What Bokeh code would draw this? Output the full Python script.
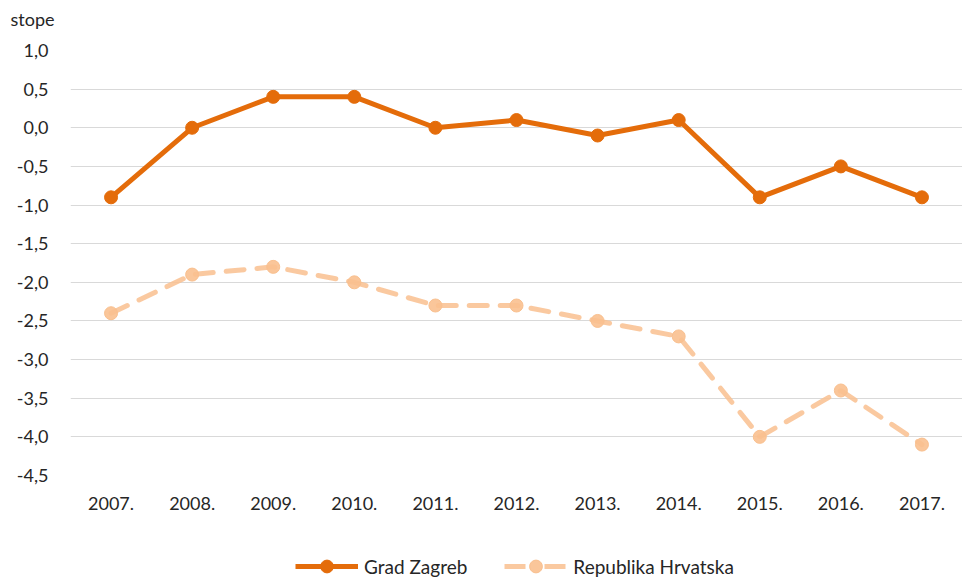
from bokeh.plotting import figure
from bokeh.layouts import column
from bokeh.models import (Range1d, FactorRange, CustomJSTickFormatter, FixedTicker,
                          Legend, LegendItem)
from bokeh.embed import file_html
from bokeh.resources import INLINE

years = ["2007.", "2008.", "2009.", "2010.", "2011.", "2012.", "2013.", "2014.", "2015.", "2016.", "2017."]
grad_zagreb = [-0.9, 0.0, 0.4, 0.4, 0.0, 0.1, -0.1, 0.1, -0.9, -0.5, -0.9]
republika_hrvatska = [-2.4, -1.9, -1.8, -2.0, -2.3, -2.3, -2.5, -2.7, -4.0, -3.4, -4.1]
y_ticks = [-4.5, -4.0, -3.5, -3.0, -2.5, -2.0, -1.5, -1.0, -0.5, 0.0, 0.5, 1.0]
unit_label = "stope"
series_names = ["Grad Zagreb", "Republika Hrvatska"]

FONT = "Lato"
FS = "18px"
TXT = "#262626"
ZG = "#E46C0A"
RH = "#F9C08F"

# header strip with the unit label (as a title shifted left of the frame)
hd = figure(width=962, height=38, x_range=Range1d(0, 1), y_range=Range1d(0, 1),
            output_backend="svg", toolbar_location=None,
            x_axis_location=None, y_axis_location=None,
            min_border_left=70, min_border_right=0, min_border_top=32, min_border_bottom=0)
hd.outline_line_color = None
hd.grid.visible = False
hd.title.text = unit_label
hd.title.align = "left"
hd.title.offset = -60
hd.title.standoff = 10
hd.title.text_font = FONT
hd.title.text_font_size = FS
hd.title.text_font_style = "normal"
hd.title.text_color = TXT

p = figure(width=962, height=477, x_range=FactorRange(*years), y_range=Range1d(-4.5, 1.0),
           output_backend="svg", toolbar_location=None,
           min_border_left=70, min_border_right=0, min_border_top=12, min_border_bottom=40)
p.outline_line_color = None
p.background_fill_color = "white"
p.border_fill_color = "white"

p.xgrid.grid_line_color = None
p.ygrid.grid_line_color = "#D9D9D9"
p.ygrid.grid_line_width = 1
p.yaxis.ticker = FixedTicker(ticks=y_ticks)
p.yaxis.formatter = CustomJSTickFormatter(code="return tick.toFixed(1).replace('.', ',');")
for ax in (p.xaxis[0], p.yaxis[0]):
    ax.axis_line_color = None
    ax.major_tick_line_color = None
    ax.minor_tick_line_color = None
    ax.major_label_text_font = FONT
    ax.major_label_text_font_size = FS
    ax.major_label_text_color = TXT
p.yaxis.major_label_standoff = 16
p.xaxis.major_label_standoff = 15

p.line(years, republika_hrvatska, line_color=RH, line_width=5, line_dash="18 13",
       line_alpha=0.85, line_cap="round")
p.scatter(years, republika_hrvatska, size=13, fill_color=RH, line_color=RH, fill_alpha=0.9)
p.line(years, grad_zagreb, line_color=ZG, line_width=5, line_join="round")
p.scatter(years, grad_zagreb, size=13, fill_color=ZG, line_color=ZG)

# legend strip below the chart (placeholder renderers sit outside the strip's view)
lg = figure(width=962, height=65, x_range=Range1d(0, 1), y_range=Range1d(0, 1),
            output_backend="svg", toolbar_location=None,
            x_axis_location=None, y_axis_location=None,
            min_border_left=70, min_border_right=0, min_border_top=0, min_border_bottom=0)
lg.outline_line_color = None
lg.grid.visible = False
ph = dict(x=[-5, -4], y=[-5, -5])
l2 = lg.line(ph["x"], ph["y"], line_color=ZG, line_width=5)
c2 = lg.scatter(ph["x"], ph["y"], size=13, fill_color=ZG, line_color=ZG)
l1 = lg.line(ph["x"], ph["y"], line_color=RH, line_width=5, line_dash="21 19", line_alpha=0.85)
c1 = lg.scatter(ph["x"], ph["y"], size=13, fill_color=RH, line_color=RH, fill_alpha=0.9)
legend = Legend(items=[LegendItem(label=series_names[0], renderers=[l2, c2]),
                       LegendItem(label=series_names[1], renderers=[l1, c1])],
                location=(225, -2), orientation="horizontal",
                glyph_width=63, glyph_height=32, label_text_font=FONT,
                label_text_font_size="19px", label_text_color=TXT,
                spacing=37, padding=0, margin=0, border_line_color=None,
                background_fill_alpha=0, label_standoff=6)
lg.add_layout(legend, "center")

layout = column(hd, p, lg, spacing=0)
open("out.html", "w").write(file_html(layout, INLINE))
